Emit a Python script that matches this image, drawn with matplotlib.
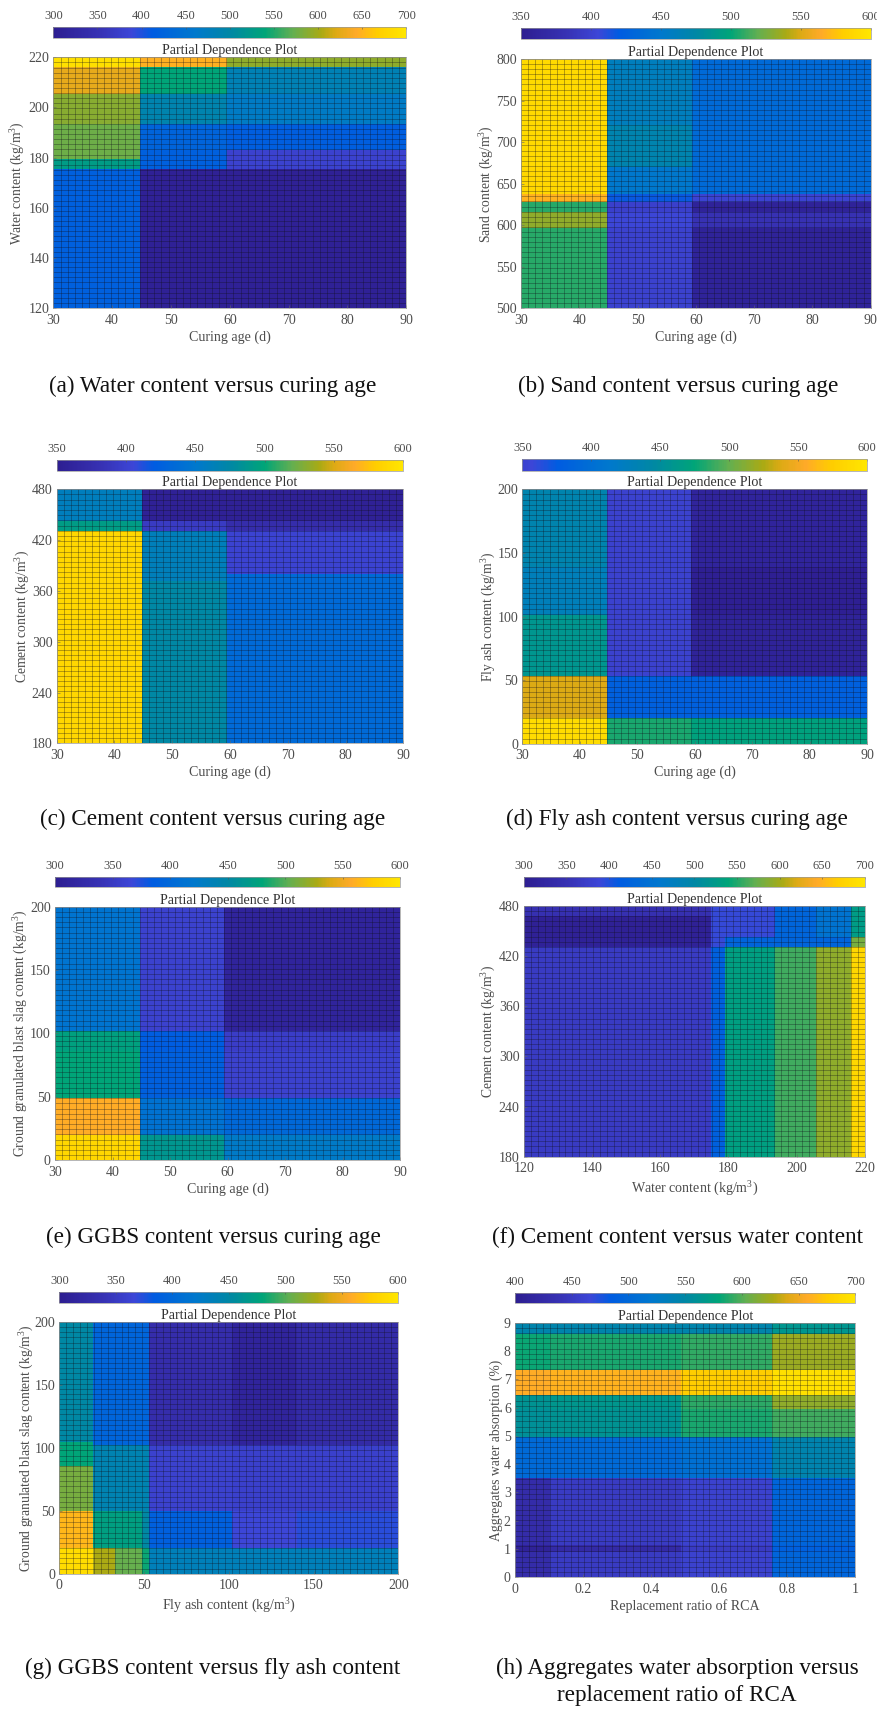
import numpy as np
import matplotlib
matplotlib.use("Agg")
import matplotlib.pyplot as plt
from matplotlib.colors import LinearSegmentedColormap, Normalize
from matplotlib.cm import ScalarMappable

plt.rcParams['font.family'] = ['Liberation Serif', 'DejaVu Serif']
plt.rcParams['mathtext.fontset'] = 'custom'
plt.rcParams['mathtext.rm'] = 'Liberation Serif'
plt.rcParams['mathtext.it'] = 'Liberation Serif'

W, H = 878, 1709
GRID_CELLS = 49

# ---- colormap stops (fraction, rgb) ----
cmap_fracs = [0, .13, .22, .28, .40, .50, .60, .68, .76, .80, .86, .92, 1]
cmap_rgbs = [(45, 30, 145), (55, 50, 180), (60, 70, 215), (0, 92, 225), (0, 120, 205),
             (0, 135, 165), (0, 165, 120), (100, 175, 80), (170, 170, 20), (220, 170, 20),
             (255, 170, 40), (255, 205, 0), (255, 230, 0)]

# ---- (a) ----
a_x = [30, 44.8, 59.5, 90]
a_y = [120, 175.5, 179.5, 183, 193.5, 205.5, 216, 220]
a_v = [[420, 308, 308],
       [528, 420, 380],
       [576, 420, 380],
       [576, 425, 416],
       [588, 492, 468],
       [628, 540, 484],
       [692, 648, 592]]
a_xt = ['30', '40', '50', '60', '70', '80', '90']
a_yt = ['120', '140', '160', '180', '200', '220']
a_cb = [300, 350, 400, 450, 500, 550, 600, 650, 700]

# ---- (b) ----
b_x = [30, 44.7, 59.4, 90]
b_y = [500, 597, 616, 628, 637, 670, 720, 800]
b_v = [[508, 400, 358],
       [532, 405, 382],
       [508, 398, 358],
       [568, 418, 402],
       [588, 450, 435],
       [590, 470, 435],
       [590, 460, 435]]
b_xt = ['30', '40', '50', '60', '70', '80', '90']
b_yt = ['500', '550', '600', '650', '700', '750', '800']
b_cb = [350, 400, 450, 500, 550, 600]

# ---- (c) ----
c_x = [30, 44.7, 59.5, 90]
c_y = [180, 372, 380, 431, 443, 480]
c_v = [[588, 475, 435],
       [588, 462, 435],
       [588, 462, 402],
       [492, 392, 375],
       [460, 355, 355]]
c_xt = ['30', '40', '50', '60', '70', '80', '90']
c_yt = ['180', '240', '300', '360', '420', '480']
c_cb = [350, 400, 450, 500, 550, 600]

# ---- (d) ----
d_x = [30, 44.8, 59.4, 90]
d_y = [0, 20, 53, 101, 139, 200]
d_v = [[592, 505, 497],
       [550, 425, 425],
       [487, 400, 358],
       [462, 400, 352],
       [470, 400, 360]]
d_xt = ['30', '40', '50', '60', '70', '80', '90']
d_yt = ['0', '50', '100', '150', '200']
d_cb = [350, 400, 450, 500, 550, 600]

# ---- (e) ----
e_x = [30, 44.7, 59.4, 90]
e_y = [0, 20, 49, 86, 102, 200]
e_v = [[585, 465, 425],
       [558, 412, 400],
       [480, 390, 360],
       [475, 385, 355],
       [415, 360, 312]]
e_xt = ['30', '40', '50', '60', '70', '80', '90']
e_yt = ['0', '50', '100', '150', '200']
e_cb = [300, 350, 400, 450, 500, 550, 600]

# ---- (f) ----
f_x = [120, 175, 179, 193.5, 205.7, 216, 220]
f_y = [180, 430.5, 443, 468, 480]
f_v = [[368, 420, 532, 560, 592, 680],
       [312, 392, 425, 425, 425, 580],
       [308, 392, 392, 428, 452, 528],
       [348, 392, 392, 428, 452, 528]]
f_xt = ['120', '140', '160', '180', '200', '220']
f_yt = ['180', '240', '300', '360', '420', '480']
f_cb = [300, 350, 400, 450, 500, 550, 600, 650, 700]

# ---- (g) ----
g_x = [0, 20, 33, 49, 53, 102, 140, 200]
g_y = [0, 20.7, 49.5, 85.8, 102, 105, 200]
g_v = [[590, 528, 504, 482, 435, 435, 435],
       [564, 474, 474, 450, 390, 366, 372],
       [510, 441, 441, 441, 360, 358, 358],
       [480, 441, 441, 441, 360, 358, 358],
       [480, 396, 396, 396, 330, 312, 325],
       [450, 396, 396, 396, 330, 312, 325]]
g_xt = ['0', '50', '100', '150', '200']
g_yt = ['0', '50', '100', '150', '200']
g_cb = [300, 350, 400, 450, 500, 550, 600]

# ---- (h) ----
h_x = [0, .102, .489, .756, 1]
h_y = [0, .9, 1.13, 3.5, 4.97, 5.95, 6.43, 7.33, 8.6, 9]
h_v = [[427, 451, 460, 496],
       [409, 424, 451, 490],
       [427, 451, 460, 496],
       [502, 502, 510, 544],
       [559, 562, 586, 595],
       [562, 566, 590, 619],
       [658, 662, 676, 694],
       [582, 586, 592, 622],
       [545, 545, 545, 565]]
h_xt = ['0', '0.2', '0.4', '0.6', '0.8', '1']
h_yt = ['0', '1', '2', '3', '4', '5', '6', '7', '8', '9']
h_cb = [400, 450, 500, 550, 600, 650, 700]

# ---- labels ----
curing = 'Curing age (d)'
unit = ' (kg/m$^3$)'
panels = [
    dict(x=a_x, y=a_y, v=a_v, xt=a_xt, yt=a_yt, cb=a_cb, xl=curing, yl='Water content' + unit,
         cap=['(a) Water content versus curing age'],
         box=(53.3, 406.3, 57.3, 308), cby=(27, 38.3), ylx=18, xlo=29, capx=213, capy=[386]),
    dict(x=b_x, y=b_y, v=b_v, xt=b_xt, yt=b_yt, cb=b_cb, xl=curing, yl='Sand content' + unit,
         cap=['(b) Sand content versus curing age'],
         box=(521, 870.7, 59, 308.3), cby=(28.3, 39.3), ylx=487, xlo=29, capx=677.7, capy=[386]),
    dict(x=c_x, y=c_y, v=c_v, xt=c_xt, yt=c_yt, cb=c_cb, xl=curing, yl='Cement content' + unit,
         cap=['(c) Cement content versus curing age'],
         box=(56.7, 403.3, 489.3, 743.3), cby=(459.7, 470.7), ylx=23, xlo=29, capx=212.7, capy=[819]),
    dict(x=d_x, y=d_y, v=d_v, xt=d_xt, yt=d_yt, cb=d_cb, xl=curing, yl='Fly ash content' + unit,
         cap=['(d) Fly ash content versus curing age'], cbstart=.2,
         box=(522.3, 867.3, 489.3, 743.7), cby=(459.3, 471), ylx=489, xlo=29, capx=677, capy=[819]),
    dict(x=e_x, y=e_y, v=e_v, xt=e_xt, yt=e_yt, cb=e_cb, xl=curing,
         yl='Ground granulated blast slag content' + unit,
         cap=['(e) GGBS content versus curing age'],
         box=(55, 400.3, 906.7, 1160.3), cby=(876.7, 887.3), ylx=21, xlo=29, capx=213, capy=[1237]),
    dict(x=f_x, y=f_y, v=f_v, xt=f_xt, yt=f_yt, cb=f_cb, xl='Water content' + unit, yl='Cement content' + unit,
         cap=['(f) Cement content versus water content'],
         box=(523.7, 865, 906, 1156.7), cby=(876.7, 887), ylx=489, xlo=32, capx=677.7, capy=[1237]),
    dict(x=g_x, y=g_y, v=g_v, xt=g_xt, yt=g_yt, cb=g_cb, xl='Fly ash content' + unit,
         yl='Ground granulated blast slag content' + unit,
         cap=['(g) GGBS content versus fly ash content'],
         box=(59.3, 398.3, 1322, 1573.7), cby=(1292.3, 1303), ylx=27, xlo=32, capx=213, capy=[1668]),
    dict(x=h_x, y=h_y, v=h_v, xt=h_xt, yt=h_yt, cb=h_cb, xl='Replacement ratio of RCA',
         yl='Aggregates water absorption (%)',
         cap=['(h) Aggregates water absorption versus', 'replacement ratio of RCA'],
         box=(515, 855.3, 1322.7, 1577.3), cby=(1293, 1303.3), ylx=496, xlo=29, capx=677.3, capy=[1668, 1696]),
]

cmap = LinearSegmentedColormap.from_list(
    'parula_like', [(f, tuple(c / 255 for c in rgb)) for f, rgb in zip(cmap_fracs, cmap_rgbs)], N=256)

TEXT = '#4d4d4d'
fig = plt.figure(figsize=(W / 100, H / 100), dpi=100)
fig.patch.set_facecolor('white')


def rect(l, r, t, b):
    return [l / W, 1 - b / H, (r - l) / W, (b - t) / H]


for p in panels:
    l, r, t, b = p['box']
    ax = fig.add_axes(rect(l, r, t, b))
    x, y = np.array(p['x']), np.array(p['y'])
    vals = np.array(p['v'], float)
    cbv = p['cb']
    norm = Normalize(cbv[0], cbv[-1])
    ax.pcolormesh(x, y, vals, cmap=cmap, norm=norm, shading='flat')
    ax.set_xlim(x[0], x[-1])
    ax.set_ylim(y[0], y[-1])
    ax.vlines(np.linspace(x[0], x[-1], GRID_CELLS + 1), y[0], y[-1], color='#10101a', lw=0.5, alpha=0.45)
    ax.hlines(np.linspace(y[0], y[-1], GRID_CELLS + 1), x[0], x[-1], color='#10101a', lw=0.5, alpha=0.45)

    ax.set_xticks([float(s) for s in p['xt']], p['xt'])
    ax.set_yticks([float(s) for s in p['yt']], p['yt'])
    ax.tick_params(length=2, width=0.4, direction='in', labelsize=10.0, labelcolor=TEXT,
                   color='#666666')
    ax.tick_params(axis='x', pad=4)
    ax.tick_params(axis='y', pad=3)
    for s in ax.spines.values():
        s.set_linewidth(0.5)
        s.set_color('#999999')

    ax.set_title('Partial Dependence Plot', fontsize=10.1, color='#333333', pad=1)
    ax.set_xlabel(p['xl'], fontsize=10.1, color=TEXT)
    ax.xaxis.label.set_va('center')
    ax.xaxis.set_label_coords(0.5, -p['xlo'] / (b - t))
    ax.set_ylabel(p['yl'], fontsize=9.8, color=TEXT)
    ax.yaxis.label.set_va('center')
    ax.yaxis.set_label_coords((p['ylx'] - l) / (r - l), 0.5)

    # colorbar
    c0, c1 = p['cby']
    cax = fig.add_axes(rect(l, r, c0, c1))
    start = p.get('cbstart', 0)
    bar_cmap = LinearSegmentedColormap.from_list('bar', cmap(np.linspace(start, 1, 256)))
    cb = fig.colorbar(ScalarMappable(norm=norm, cmap=bar_cmap), cax=cax, orientation='horizontal')
    cb.set_ticks(cbv, labels=[str(v) for v in cbv])
    cax.xaxis.set_ticks_position('top')
    cax.tick_params(length=1.5, width=0.4, direction='in', labelsize=9.0, labelcolor=TEXT,
                    color='#555555', pad=3.5)
    cb.outline.set_linewidth(0.5)
    cb.outline.set_edgecolor('#999999')

    for line, cy in zip(p['cap'], p['capy']):
        fig.text(p['capx'] / W, 1 - cy / H, line, ha='center', va='center',
                 fontsize=16.7, color='#111111')

fig.savefig('out.png', dpi=100)
